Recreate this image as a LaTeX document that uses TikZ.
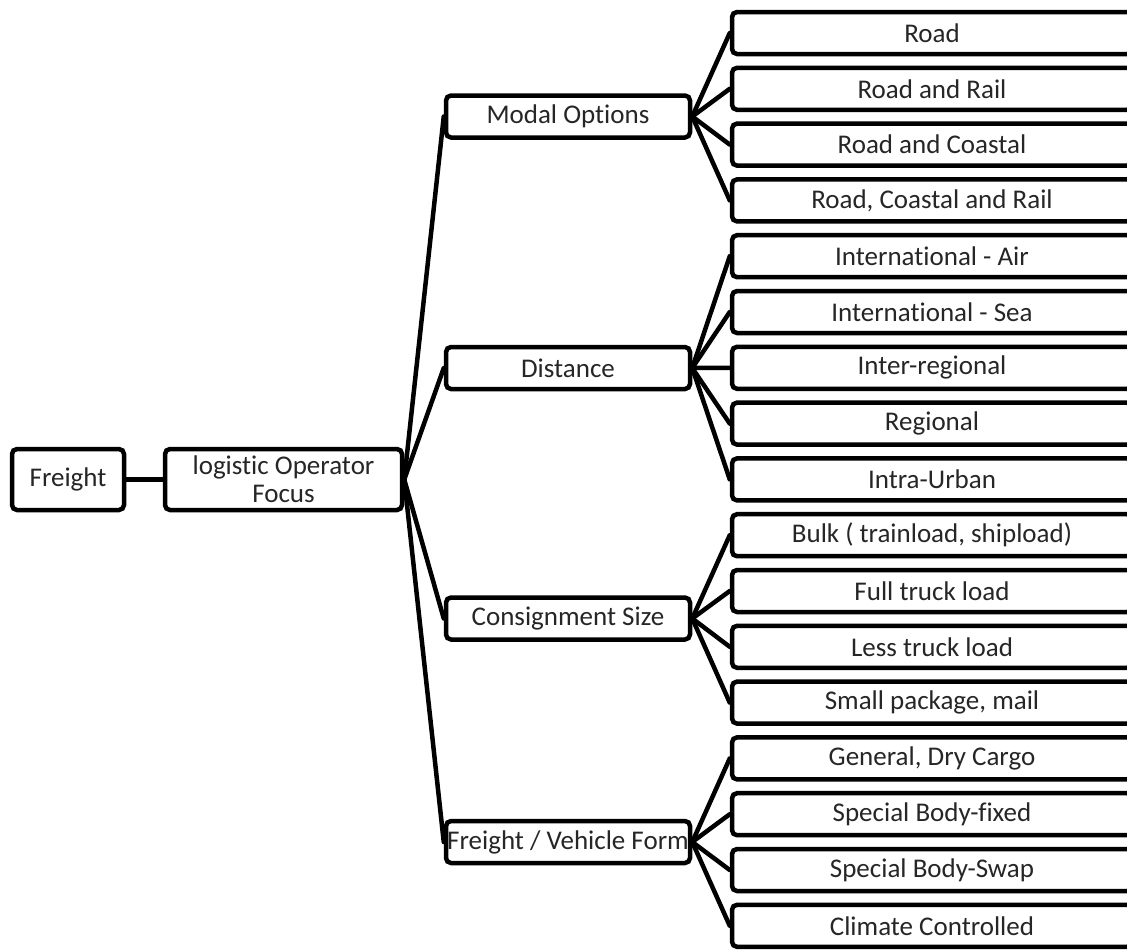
\documentclass[tikz,border=0pt]{standalone}
\usepackage{fontspec}
\setmainfont{Carlito}[Ligatures=NoCommon]
\begin{document}
\begin{tikzpicture}[x=1pt,y=-1pt,
  box/.style={draw, line width=4.5pt, rounded corners=5pt, fill=white, inner sep=0pt,
    font=\fontsize{27}{28}\selectfont, text=black!85, align=center},
  leaf/.style={box, minimum width=400pt, minimum height=42pt},
  mid/.style={box, minimum width=244pt, minimum height=42pt},
  link/.style={line width=4.5pt, line cap=round}]
\useasboundingbox (0,0) rectangle (1127,951);
% root nodes
\node[box, minimum width=112pt, minimum height=61pt] (freight) at (68,479.5) {Freight};
\node[box, minimum width=237pt, minimum height=61pt] (logistic) at (283.5,479.5) {logistic Operator\\Focus};
% middle level
\node[mid] (modal) at (568,116.5) {Modal Options};
\node[mid] (dist) at (568,368) {Distance};
\node[mid] (cons) at (568,618.5) {Consignment Size};
\node[mid] (form) at (568,842) {Freight / Vehicle Form};
% leaves
\node[leaf] (l0) at (932,33) {Road};
\node[leaf] (l1) at (932,88.8) {Road and Rail};
\node[leaf] (l2) at (932,144.6) {Road and Coastal};
\node[leaf] (l3) at (932,200.4) {Road, Coastal and Rail};
\node[leaf] (l4) at (932,256.2) {International - Air};
\node[leaf] (l5) at (932,312) {International - Sea};
\node[leaf] (l6) at (932,367.8) {Inter-regional};
\node[leaf] (l7) at (932,423.6) {Regional};
\node[leaf] (l8) at (932,479.4) {Intra-Urban};
\node[leaf] (l9) at (932,535.2) {Bulk ( trainload, shipload)};
\node[leaf] (l10) at (932,591) {Full truck load};
\node[leaf] (l11) at (932,646.8) {Less truck load};
\node[leaf] (l12) at (932,702.6) {Small package, mail};
\node[leaf] (l13) at (932,758.4) {General, Dry Cargo};
\node[leaf] (l14) at (932,814.2) {Special Body-fixed};
\node[leaf] (l15) at (932,870) {Special Body-Swap};
\node[leaf] (l16) at (932,925.8) {Climate Controlled};
% connectors
\draw[link] (freight.east) -- (logistic.west);
\foreach \m in {modal,dist,cons,form}
  \draw[link] (logistic.east) -- (\m.west);
\foreach \l in {l0,l1,l2,l3}
  \draw[link] (modal.east) -- (\l.west);
\foreach \l in {l4,l5,l6,l7,l8}
  \draw[link] (dist.east) -- (\l.west);
\foreach \l in {l9,l10,l11,l12}
  \draw[link] (cons.east) -- (\l.west);
\foreach \l in {l13,l14,l15,l16}
  \draw[link] (form.east) -- (\l.west);
\end{tikzpicture}
\end{document}
